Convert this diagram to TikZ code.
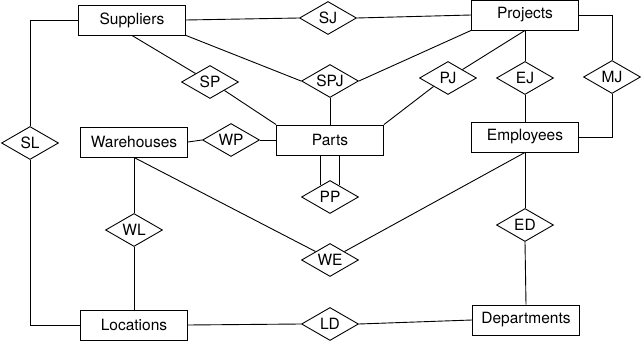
\documentclass[tikz,border=0pt]{standalone}
\usepackage{fontspec}
\setmainfont{TeX Gyre Heros}
\usepackage{tikz}
\usetikzlibrary{shapes.geometric, calc}

\begin{document}
\begin{tikzpicture}[x=1pt,y=-1pt,line width=0.9pt,font=\fontsize{15.5}{18}\selectfont,entity/.style={rectangle,draw,minimum width=107pt,minimum height=30pt,inner sep=0pt}]
\tikzstyle{relation} = [diamond, draw, aspect=1.75, minimum width=57pt, minimum height=33pt, inner sep=0pt]

\useasboundingbox (0,0) rectangle (643,342);

\node[entity] (sup) at (132,20) {Suppliers};
\node[entity] (proj) at (525,15) {Projects};
\node[entity] (wh) at (134,142) {Warehouses};
\node[entity] (parts) at (330,140) {Parts};
\node[entity] (emp) at (525,137) {Employees};
\node[entity] (loc) at (134,325) {Locations};
\node[entity] (dep) at (526,320) {Departments};

\node[relation] (sj) at (328,18) {SJ};
\node[relation] (sp) at (210,82) {SP};
\node[relation] (spj) at (330,81) {SPJ};
\node[relation] (pj) at (448,78) {PJ};
\node[relation] (ej) at (525,78) {EJ};
\node[relation] (mj) at (612,77) {MJ};
\node[relation] (sl) at (30,143) {SL};
\node[relation] (wp) at (231,140) {WP};
\node[relation] (pp) at (330,197) {PP};
\node[relation] (wl) at (134,230) {WL};
\node[relation] (we) at (330,260) {WE};
\node[relation] (ed) at (525,225) {ED};
\node[relation] (ld) at (330,324) {LD};

\draw (sup.east) -- (sj.west);
\draw (sj.east) -- (proj.west);
\draw (sup.west) -| (sl.north);
\draw (sl.south) |- (loc.west);
\draw (sup.south) -- (sp.north west);
\draw (sp.south east) -- (parts.north west);
\draw (sup.south east) -- (spj.west);
\draw (spj.south) -- (parts.north);
\draw (spj.east) -- (proj.south west);
\draw (proj.south) -- (pj.north east);
\draw (pj.south west) -- (parts.north east);
\draw (proj.south) -- (ej.north);
\draw (ej.south) -- (emp.north);
\draw (proj.east) -| (mj.north);
\draw (mj.south) |- (emp.east);
\draw (wh.east) -- (wp.west);
\draw (wp.east) -- (parts.west);
\draw (wh.south) -- (wl.north);
\draw (wl.south) -- (loc.north);
\draw (wh.south) -- (we.north west);
\draw (we.north east) -- (emp.south);
\draw (emp.south) -- (ed.north);
\draw (ed.south) -- (dep.north);
\draw (loc.east) -- (ld.west);
\draw (ld.east) -- (dep.west);

\coordinate (ppa) at ($(pp.north)!0.32!(pp.west)$);
\coordinate (ppb) at ($(pp.north)!0.32!(pp.east)$);
\draw (ppa) -- (ppa |- parts.south);
\draw (ppb) -- (ppb |- parts.south);

\end{tikzpicture}
\end{document}
